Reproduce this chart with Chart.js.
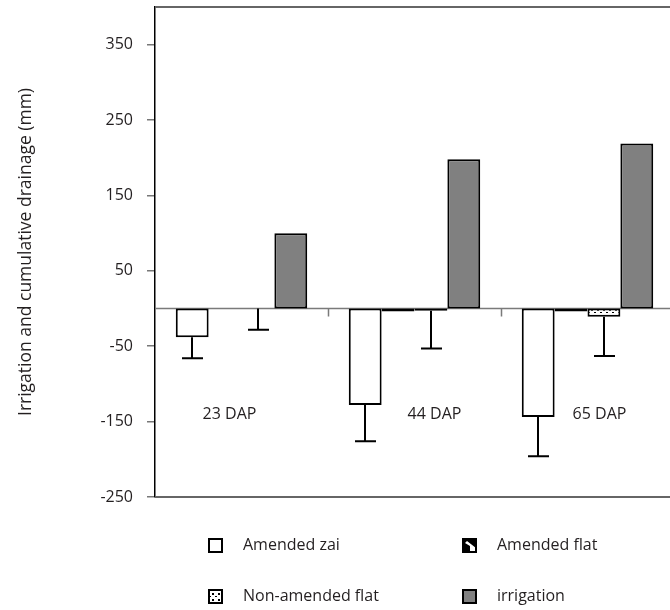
<!DOCTYPE html>
<html>
<head>
<meta charset="utf-8">
<script src="https://cdn.jsdelivr.net/npm/chart.js@4.4.0/dist/chart.umd.min.js"></script>
<style>
  html, body { margin: 0; padding: 0; background: #fff; overflow: hidden; }
</style>
</head>
<body>
<canvas id="drainChart" width="700" height="610"></canvas>
<script>
(function () {

    'use strict';

    var stages = ['23 DAP', '44 DAP', '65 DAP'];
    var amendedZai = [-38, -128, -144];
    var amendedZaiErr = [28, 48, 52];
    var amendedFlat = [0, -4, -4];
    var nonAmendedFlat = [0, -3, -11];
    var nonAmendedFlatErr = [28, 50, 52];
    var irrigation = [100, 198, 219];
    var yTicks = [-250, -150, -50, 50, 150, 250, 350];

    var FONT = '"Open Sans", "DejaVu Sans", sans-serif';
    var INK = '#231f20';

    // small tiles used as bar fills
    function makePattern(size, paint) {
        var c = document.createElement('canvas');
        c.width = size;
        c.height = size;
        paint(c.getContext('2d'), size);
        return document.createElement('canvas').getContext('2d').createPattern(c, 'repeat');
    }

    var flatFill = makePattern(13, function (g, s) {
        g.fillStyle = '#000';
        g.fillRect(0, 0, s, s);
        g.fillStyle = '#fff';
        g.beginPath();
        g.moveTo(4, 2);
        g.lineTo(s, 9);
        g.lineTo(s, s);
        g.lineTo(7, s);
        g.lineTo(7, 7);
        g.lineTo(2, 4);
        g.closePath();
        g.fill();
    });

    var nonFlatFill = makePattern(6, function (g, s) {
        g.fillStyle = '#fff';
        g.fillRect(0, 0, s, s);
        g.fillStyle = '#000';
        g.fillRect(0, 0, 2, 1);
        g.fillRect(3, 3, 2, 2);
    });

    // zero reference line with tick marks between the stages
    var zeroLine = {
        id: 'zeroLine',
        beforeDatasetsDraw: function (chart) {
            var ctx = chart.ctx, x = chart.scales.x, y = chart.scales.y, a = chart.chartArea;
            var y0 = y.getPixelForValue(0);
            ctx.save();
            ctx.strokeStyle = '#7a7a7a';
            ctx.lineWidth = 1.5;
            ctx.beginPath();
            ctx.moveTo(a.left, y0);
            ctx.lineTo(a.right, y0);
            for (var i = 0; i < stages.length - 1; i++) {
                var bx = Math.round((x.getPixelForValue(i) + x.getPixelForValue(i + 1)) / 2) + 0.5;
                ctx.moveTo(bx, y0);
                ctx.lineTo(bx, y0 + 8);
            }
            ctx.stroke();
            ctx.restore();
        }
    };

    // top, right and bottom edges of the plot frame
    var frame = {
        id: 'frame',
        afterDraw: function (chart) {
            var ctx = chart.ctx, a = chart.chartArea;
            ctx.save();
            ctx.strokeStyle = '#666';
            ctx.lineWidth = 2;
            ctx.beginPath();
            ctx.moveTo(a.left, a.top);
            ctx.lineTo(a.right, a.top);
            ctx.lineTo(a.right, a.bottom);
            ctx.lineTo(a.left, a.bottom);
            ctx.stroke();
            ctx.restore();
        }
    };

    // one-sided (downward) error bars
    var errorBars = {
        id: 'errorBars',
        afterDatasetsDraw: function (chart) {
            var ctx = chart.ctx, y = chart.scales.y;
            ctx.save();
            ctx.strokeStyle = '#000';
            ctx.lineWidth = 2;
            chart.data.datasets.forEach(function (ds, di) {
                if (!ds.errors) return;
                chart.getDatasetMeta(di).data.forEach(function (bar, i) {
                    var err = ds.errors[i];
                    if (!err) return;
                    var y1 = y.getPixelForValue(ds.data[i]);
                    var y2 = y.getPixelForValue(ds.data[i] - err);
                    var bx = Math.round(bar.x);
                    ctx.beginPath();
                    ctx.moveTo(bx, y1);
                    ctx.lineTo(bx, y2);
                    ctx.moveTo(bx - 10, y2);
                    ctx.lineTo(bx + 11, y2);
                    ctx.stroke();
                });
            });
            ctx.restore();
        }
    };

    // stage names written inside the plot
    var stageLabels = {
        id: 'stageLabels',
        afterDatasetsDraw: function (chart) {
            var ctx = chart.ctx, x = chart.scales.x, y = chart.scales.y;
            var shift = [-12, 20, 12];
            ctx.save();
            ctx.fillStyle = INK;
            ctx.font = '16px ' + FONT;
            ctx.textAlign = 'center';
            ctx.textBaseline = 'middle';
            stages.forEach(function (s, i) {
                ctx.fillText(s, x.getPixelForValue(i) + shift[i], y.getPixelForValue(-140));
            });
            ctx.restore();
        }
    };

    // two-column legend under the plot
    var gridLegend = {
        id: 'gridLegend',
        afterDraw: function (chart) {
            var ctx = chart.ctx;
            var cols = [209, 463], rows = [545, 596];
            ctx.save();
            ctx.font = '16px ' + FONT;
            ctx.textBaseline = 'middle';
            chart.data.datasets.forEach(function (ds, i) {
                var lx = cols[i % 2], ly = rows[Math.floor(i / 2)];
                ctx.save();
                ctx.translate(lx, ly - 6);
                ctx.fillStyle = ds.backgroundColor;
                ctx.fillRect(0, 0, 13, 13);
                ctx.strokeStyle = '#000';
                ctx.lineWidth = 2;
                ctx.strokeRect(0, 0, 13, 13);
                ctx.restore();
                ctx.fillStyle = INK;
                ctx.fillText(ds.label, lx + 34, ly);
            });
            ctx.restore();
        }
    };

    var ctx = document.getElementById('drainChart').getContext('2d');
    var drainChart = new Chart(ctx, {
        type: 'bar',
        data: {
            labels: stages,
            datasets: [{
                label: 'Amended zai',
                data: amendedZai,
                errors: amendedZaiErr,
                backgroundColor: '#ffffff'
            }, {
                label: 'Amended flat',
                data: amendedFlat,
                backgroundColor: flatFill
            }, {
                label: 'Non-amended flat',
                data: nonAmendedFlat,
                errors: nonAmendedFlatErr,
                backgroundColor: nonFlatFill
            }, {
                label: 'irrigation',
                data: irrigation,
                backgroundColor: '#808080'
            }]
        },
        options: {
            responsive: false,
            animation: false,
            devicePixelRatio: 1,
            layout: { padding: { top: 7, right: 26, bottom: 113, left: 0 } },
            datasets: {
                bar: {
                    borderColor: '#000',
                    borderWidth: 2,
                    borderSkipped: false,
                    barPercentage: 1,
                    categoryPercentage: 0.76
                }
            },
            plugins: {
                legend: { display: false },
                tooltip: { enabled: false }
            },
            scales: {
                x: { display: false },
                y: {
                    min: -250,
                    max: 400,
                    afterBuildTicks: function (scale) {
                        scale.ticks = yTicks.map(function (v) { return { value: v }; });
                    },
                    afterFit: function (scale) {
                        scale.width = 155;
                        scale.paddingTop = 0;
                        scale.paddingBottom = 0;
                    },
                    border: { display: true, color: '#000', width: 1.5 },
                    grid: { drawOnChartArea: false, tickLength: 8, color: '#777', lineWidth: 1.5 },
                    ticks: { padding: 14, color: INK, font: { family: FONT, size: 16 } },
                    title: {
                        display: true,
                        text: 'Irrigation and cumulative drainage (mm)',
                        color: INK,
                        padding: { top: 16, bottom: 0 },
                        font: { family: FONT, size: 17.5 }
                    }
                }
            }
        },
        plugins: [zeroLine, errorBars, stageLabels, frame, gridLegend]
    });

})();
</script>
</body>
</html>
